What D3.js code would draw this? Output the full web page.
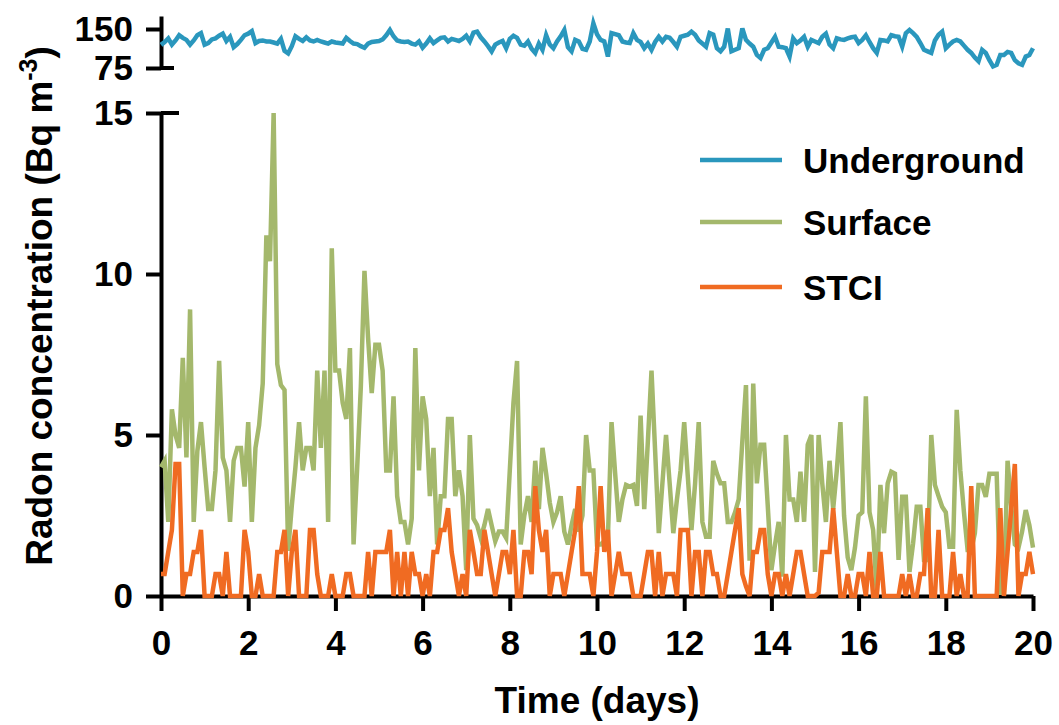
<!DOCTYPE html>
<html>
<head>
<meta charset="utf-8">
<script src="https://cdn.jsdelivr.net/npm/d3@7"></script>
<style>
  html, body { margin: 0; padding: 0; background: #ffffff; }
  svg { display: block; }
</style>
</head>
<body>
<svg id="chart" width="1059" height="725"></svg>
<script>
// ---------------- DATA (2-hour samples over 20 days) ----------------
const seriesNames = ["Underground", "Surface", "STCI"];
const seriesColors = ["#2a97bd", "#a4b86c", "#f06b22"];
const sampleStepDays = 2 / 24;

const underground = [
  119.5,125,132,120,128,138,133,129,120,128,
  138,142,120,123,130,132,137,141,127,135,
  115,121,129,138,141,146,123,127,128,126,
  126,124,122,131,108,103,117,136,131,127,
  134,128,126,129,126,124,122,126,124,123,
  122,133,127,122,121,117,114,122,125,126,
  127,130,138,148,136,128,126,125,126,122,
  120,126,114,122,132,123,128,133,134,126,
  131,129,127,131,137,126,143,145,134,126,
  117,107,120,124,127,113,131,137,133,120,
  118,126,112,104,122,110,138,120,113,126,
  136,148,115,107,129,126,112,110,126,161,
  140,129,126,97,142,140,138,126,124,123,
  142,129,125,113,122,110,125,135,126,135,
  133,125,116,135,137,139,145,139,128,122,
  116,142,139,113,107,116,151,107,110,113,
  151,129,122,116,100,94,110,113,124,135,
  116,115,113,97,132,123,128,135,116,129,
  126,123,135,141,120,113,132,130,129,132,
  134,135,123,129,138,125,113,104,129,128,
  126,138,136,135,116,142,148,142,135,123,
  110,107,104,128,139,145,113,120,126,129,
  126,118,110,104,95,88,110,104,90,78,
  81,100,100,106,104,90,84,81,97,100,
  113
];

const surface = [
  4.0,4.2,2.3,5.8,5.0,4.6,7.4,4.3,8.9,2.3,
  4.5,5.4,4.0,2.7,2.7,3.9,7.3,4.3,3.9,2.3,
  4.2,4.6,4.6,3.4,5.4,2.3,4.6,5.3,6.6,11.2,
  10.4,15.0,7.2,6.55,6.4,1.4,2.8,4.0,5.4,3.9,
  4.6,4.6,3.9,7.0,4.6,7.0,2.3,10.8,7.0,7.0,
  6.0,5.5,7.7,1.6,4.0,6.5,10.1,8.0,6.3,7.8,
  7.8,7.0,3.9,3.9,6.2,3.1,2.3,2.3,1.6,2.4,
  7.7,3.9,6.2,5.5,3.1,4.6,1.6,3.1,3.1,5.5,
  5.5,3.1,3.9,3.1,0.8,5.0,2.4,2.2,1.8,2.2,
  2.7,2.2,1.7,2.0,2.0,1.8,3.9,6.0,7.3,1.6,
  2.5,3.1,2.3,4.2,2.7,4.6,3.8,2.9,2.3,2.6,
  3.1,2.0,1.6,2.2,2.7,2.0,2.5,5.0,3.9,3.9,
  1.6,1.6,1.7,1.8,5.4,3.8,2.3,3.0,3.45,3.4,
  3.45,2.8,5.6,2.7,4.8,7.0,4.5,1.95,3.5,5.0,
  3.5,1.95,3.0,3.9,5.4,3.7,2.05,3.5,5.4,2.3,
  1.84,1.84,4.2,3.8,3.5,3.5,2.3,2.3,2.6,3.0,
  4.8,6.55,1.1,6.6,3.5,4.7,4.7,2.8,0.8,1.6,
  2.3,0.6,5.0,3.0,3.0,2.3,3.86,2.3,4.7,5.0,
  0.75,5.0,3.5,2.3,4.2,2.7,3.9,5.4,2.5,1.2,
  0.8,1.5,2.5,2.6,6.2,2.6,2.05,0.1,3.45,1.95,
  3.5,3.86,3.8,1.12,3.08,3.08,0.75,1.64,2.77,2.77,
  1.12,1.12,5.0,3.45,3.1,2.77,2.6,1.53,1.53,5.78,
  3.9,2.6,1.43,1.43,1.95,3.45,3.45,3.08,3.8,3.8,
  3.8,0.1,0.1,4.2,2.8,1.6,1.5,2.0,2.67,2.2,
  1.5
];

const stci = [
  0.68,0.68,1.37,2.05,4.1,4.1,0,0.68,0.68,1.37,
  1.37,2.05,0,0,0,0.68,0.68,0,1.37,0,
  0,0,0,2.05,1.37,0,0,0.68,0,0,
  0,0,1.37,1.37,2.05,0,1.37,2.05,0,0,
  0,2.05,2.05,0.68,0,0,0,0.68,0,0,
  0,0.68,0.68,0,0,0,0,1.37,0,1.37,
  1.37,1.37,1.37,2.05,0,1.37,0,1.37,0,1.37,
  0.68,0.68,0,0.68,0,1.37,1.37,2.05,2.05,2.73,
  1.37,0.68,0,0.68,0,2.05,1.37,0.68,0.68,2.05,
  1.37,0.68,0,0.68,1.37,1.37,0.68,2.05,0,0,
  1.37,1.37,0.68,3.41,2.05,1.37,2.05,0,0.68,0.68,
  0.68,0,0.68,1.37,2.05,3.41,0.68,0.68,0.68,0,
  1.37,3.41,1.37,2.05,0,0.68,1.37,0.68,0.68,0.68,
  0,0,0,0.68,1.37,1.37,0,1.37,0,0.68,
  0.68,0.68,0,2.05,2.05,2.05,0,1.37,1.37,0,
  1.37,1.37,0.68,0.68,0,0,0.68,1.37,2.05,2.73,
  0.68,0.3,0,1.37,1.37,2.05,2.05,0.68,0,0.68,
  0.68,0,0.68,0,0.68,1.37,1.37,0.68,0,0,
  0,0.1,1.37,1.37,1.37,2.73,1.37,0,0,0.68,
  0,0,0.68,0.68,0,1.37,0,0,1.37,0,
  0,0,0,0,0.68,0,0.68,0,0,0.68,
  0.68,2.73,0,0,2.05,0,0,0,1.37,0,
  0.68,0,0,3.41,0,0,0,0,0,0,
  0,2.73,0,1.37,2.7,4.1,0,0.68,0.68,1.37,
  0.68
];

const xTicks = [0, 2, 4, 6, 8, 10, 12, 14, 16, 18, 20];
const yLowTicks = [0, 5, 10, 15];
const yTopTicks = [75, 150];
const xTitle = "Time (days)";
const yTitleMain = "Radon concentration (Bq m";
const yTitleSup = "-3";
const yTitleEnd = ")";

// ---------------- DRAWING ----------------
const svg = d3.select("#chart");
const FONT = "'Liberation Sans', Arial, Helvetica, sans-serif";
const LW = 4.5;

const x = d3.scaleLinear().domain([0, 20]).range([161, 1033]);
const yLow = d3.scaleLinear().domain([0, 15]).range([596, 113]);
const yTop = d3.scaleLinear().domain([75, 175]).range([68, 16]);

function styleAxis(g) {
  g.select(".domain").attr("stroke", "#000").attr("stroke-width", 4);
  g.selectAll(".tick line").attr("stroke", "#000").attr("stroke-width", 4);
  g.selectAll(".tick text")
    .attr("fill", "#000")
    .style("font-family", FONT)
    .style("font-weight", "bold")
    .style("font-size", "35px");
}

// X axis
const gx = svg.append("g").attr("transform", `translate(0,${yLow(0)})`)
  .call(d3.axisBottom(x).tickValues(xTicks).tickFormat(d3.format("d"))
    .tickSize(15).tickSizeOuter(0).tickPadding(19));
styleAxis(gx);

// Lower Y axis
const gyl = svg.append("g").attr("transform", `translate(${x(0)},0)`)
  .call(d3.axisLeft(yLow).tickValues(yLowTicks).tickFormat(d3.format("d"))
    .tickSize(15).tickSizeOuter(0).tickPadding(13));
styleAxis(gyl);

// Upper Y axis
const gyt = svg.append("g").attr("transform", `translate(${x(0)},0)`)
  .call(d3.axisLeft(yTop).tickValues(yTopTicks).tickFormat(d3.format("d"))
    .tickSize(15).tickSizeOuter(0).tickPadding(13));
styleAxis(gyt);

// Axis-break caps
svg.append("line").attr("x1", x(0)).attr("x2", x(0) + 18)
  .attr("y1", yLow(15)).attr("y2", yLow(15))
  .attr("stroke", "#000").attr("stroke-width", 4);
svg.append("line").attr("x1", x(0)).attr("x2", x(0) + 13)
  .attr("y1", yTop(75)).attr("y2", yTop(75))
  .attr("stroke", "#000").attr("stroke-width", 4);

// Series lines (drawn over the axes, as in the reference)
const lineLow = (vals) => d3.line()
  .x((d, i) => x(i * sampleStepDays))
  .y(d => yLow(d))(vals);
const lineTop = (vals) => d3.line()
  .x((d, i) => x(i * sampleStepDays))
  .y(d => yTop(d))(vals);

svg.append("path").attr("d", lineTop(underground))
  .attr("fill", "none").attr("stroke", seriesColors[0]).attr("stroke-width", LW);
svg.append("path").attr("d", lineLow(surface))
  .attr("fill", "none").attr("stroke", seriesColors[1]).attr("stroke-width", LW);
svg.append("path").attr("d", lineLow(stci))
  .attr("fill", "none").attr("stroke", seriesColors[2]).attr("stroke-width", LW);

// Axis titles
svg.append("text")
  .attr("x", (x(0) + x(20)) / 2).attr("y", 713)
  .attr("text-anchor", "middle")
  .style("font-family", FONT).style("font-weight", "bold").style("font-size", "37px")
  .text(xTitle);

const yt = svg.append("text")
  .attr("transform", "translate(52,306) rotate(-90)")
  .attr("text-anchor", "middle")
  .style("font-family", FONT).style("font-weight", "bold").style("font-size", "37px");
yt.append("tspan").text(yTitleMain);
yt.append("tspan").attr("dy", -15).style("font-size", "25px").text(yTitleSup);
yt.append("tspan").attr("dy", 15).text(yTitleEnd);

// Legend
const legendY = [160, 222, 287];
seriesNames.forEach((name, i) => {
  svg.append("line")
    .attr("x1", 700).attr("x2", 782)
    .attr("y1", legendY[i]).attr("y2", legendY[i])
    .attr("stroke", seriesColors[i]).attr("stroke-width", LW);
  svg.append("text")
    .attr("x", 803).attr("y", legendY[i] + 12.5)
    .style("font-family", FONT).style("font-weight", "bold").style("font-size", "35px")
    .attr("fill", "#000")
    .text(name);
});
</script>
</body>
</html>
